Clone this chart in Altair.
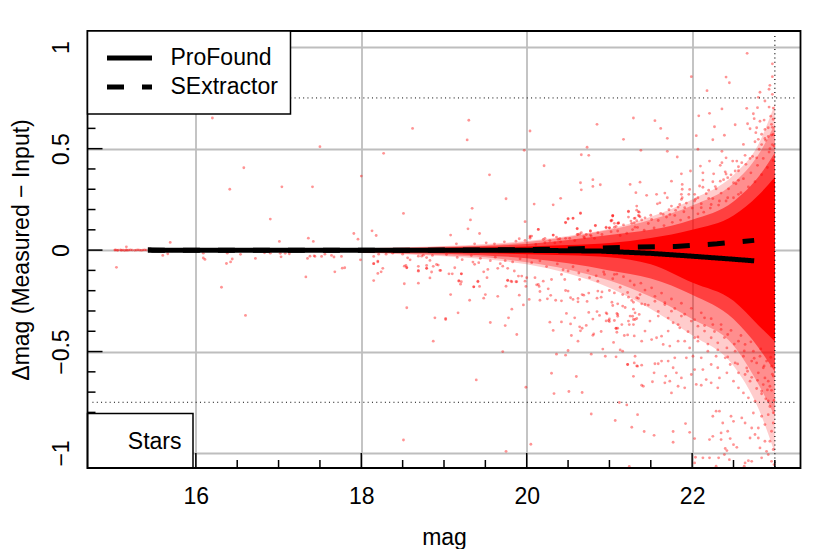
import altair as alt
import pandas as pd

FONT = "Liberation Sans"
X_DOMAIN = [14.69, 23.31]
Y_DOMAIN = [-1.074, 1.08]
W, H = 713, 437

X_MAJOR = [16, 18, 20, 22]
X_MINOR = [15, 15.5, 16.5, 17, 17.5, 18.5, 19, 19.5, 20.5, 21, 21.5, 22.5, 23]
Y_MAJOR = [-1, -0.5, 0, 0.5, 1]
Y_MINOR = [-0.9, -0.8, -0.7, -0.6, -0.4, -0.3, -0.2, -0.1, 0.1, 0.2, 0.3, 0.4, 0.6, 0.7, 0.8, 0.9]

BAND_MAG = [18.0, 18.5, 19.0, 19.5, 20.0, 20.5, 21.0, 21.5, 22.0, 22.5, 22.8, 23.0]
FAINT_HI = [0.008, 0.014, 0.02, 0.03, 0.045, 0.07, 0.105, 0.165, 0.25, 0.37, 0.52, 0.72]
FAINT_LO = [-0.014, -0.02, -0.03, -0.045, -0.07, -0.115, -0.185, -0.29, -0.42, -0.57, -0.78, -1.0]
OUTER_HI = [0.008, 0.012, 0.018, 0.024, 0.04, 0.065, 0.1, 0.15, 0.22, 0.33, 0.47, 0.62]
OUTER_LO = [-0.012, -0.018, -0.025, -0.035, -0.06, -0.095, -0.15, -0.23, -0.34, -0.47, -0.66, -0.82]
MID_HI = [0.007, 0.01, 0.014, 0.02, 0.03, 0.05, 0.075, 0.1, 0.15, 0.24, 0.36, 0.48]
MID_LO = [-0.01, -0.014, -0.018, -0.026, -0.04, -0.065, -0.1, -0.14, -0.22, -0.34, -0.48, -0.6]
CORE_HI = [0.005, 0.007, 0.01, 0.013, 0.018, 0.025, 0.035, 0.06, 0.1, 0.17, 0.27, 0.36]
CORE_LO = [-0.006, -0.009, -0.012, -0.016, -0.02, -0.025, -0.035, -0.07, -0.16, -0.25, -0.37, -0.45]

LINE_PF_MAG = [15.42, 16, 17, 18, 19, 20, 20.5, 20.9, 21.5, 22, 22.5, 22.75]
LINE_PF_VAL = [0, -0.001, -0.001, -0.001, -0.001, -0.001, -0.003, -0.005, -0.016, -0.03, -0.045, -0.053]
LINE_SX_MAG = [15.42, 16, 17, 18, 19, 20, 20.5, 20.9, 21.35, 21.8, 22.3, 22.75]
LINE_SX_VAL = [0, -0.001, -0.001, -0.001, 0, 0.002, 0.005, 0.01, 0.015, 0.018, 0.031, 0.048]

POINTS = [
(15.02,0.0),(15.03,0.001),(15.05,-0.001),(15.06,0.0),(15.09,0.001),(15.1,-0.001),(15.12,0.0),(15.14,-0.002),(15.16,0.001),(15.17,-0.001),
(15.19,0.0),(15.21,0.001),(15.23,0.0),(15.26,-0.001),(15.28,0.0),(15.3,0.001),(15.32,0.0),(15.34,-0.001),(15.36,0.0),(15.38,0.001),(15.4,0.0),
(16.2,0.651),(18.62,0.6),(17.5,0.51),(18.27,0.477),(16.58,0.406),(18.0,0.365),(16.41,0.3),(17.04,0.312),(17.41,0.312),(18.51,0.181),
(16.9,0.153),(17.91,0.082),(18.13,0.095),(18.18,0.072),(17.36,0.059),(17.42,0.043),(17.01,0.043),(17.96,0.054),(15.69,0.038),(15.16,0.016),
(15.04,-0.085),(15.6,-0.026),(15.66,-0.018),(16.09,-0.015),(16.09,-0.039),(16.11,-0.046),(16.37,-0.066),(16.44,-0.044),(16.42,-0.058),(16.54,-0.021),
(16.38,-0.015),(16.72,-0.041),(16.31,-0.183),(16.83,-0.013),(16.9,-0.015),(17.03,-0.033),(17.02,-0.016),(17.08,-0.016),(17.13,-0.018),(17.33,-0.132),
(17.68,-0.107),(17.77,-0.089),(17.8,-0.087),(17.35,-0.041),(17.38,-0.03),(17.43,-0.028),(16.6,-0.322),(17.44,-0.031),(17.52,-0.031),(17.56,-0.02),
(17.67,-0.034),(17.76,-0.031),(17.64,-0.026),(17.99,-0.048),(18.15,-0.15),(18.2,-0.115),(18.24,-0.107),(18.26,-0.09),(18.15,-0.067),(18.2,-0.058),
(18.15,-0.031),(18.52,-0.166),(18.55,-0.284),(18.89,-0.334),(18.87,-0.449),(18.51,-0.936),(18.69,-0.163),(18.83,-0.137),(18.69,-0.104),(18.69,-0.08),
(18.54,-0.076),(18.55,-0.086),(18.79,-0.09),(18.79,-0.076),(18.85,-0.108),(18.87,-0.08),(18.91,-0.071),(18.93,-0.074),(18.95,-0.1),(18.59,-0.048),
(18.56,-0.038),(18.83,-0.051),(18.5,-0.02),(18.79,-0.037),(18.69,-0.03),(18.73,-0.03),(18.75,-0.025),(18.21,-0.02),(18.3,-0.02),(18.38,-0.015),
(19.3,0.64),(20.04,0.587),(19.28,0.543),(19.97,0.492),(20.85,0.62),(21.29,0.651),(21.17,0.546),(20.73,0.507),(20.66,0.47),(20.75,0.467),
(21.38,0.492),(20.21,0.416),(19.55,0.371),(20.65,0.332),(20.8,0.347),(20.8,0.314),(20.89,0.322),(20.66,0.297),(21.25,0.324),(21.37,0.335),
(21.32,0.283),(19.75,0.253),(20.41,0.255),(20.09,0.227),(20.32,0.223),(19.34,0.206),(19.32,0.149),(20.65,0.183),(20.56,0.158),(20.5,0.153),
(20.47,0.137),(19.98,0.14),(19.29,0.105),(19.43,0.082),(19.08,0.074),(20.14,0.102),(20.04,0.069),(20.04,0.064),(19.91,0.056),(20.22,0.058),
(20.32,0.074),(20.36,0.064),(20.4,0.056),(20.47,0.058),(20.61,0.105),(20.83,0.12),(21.03,0.147),(21.04,0.169),(21.06,0.132),(21.11,0.133),
(21.23,0.192),(21.23,0.163),(21.31,0.158),(21.33,0.145),(21.33,0.217),(21.33,0.197),(21.36,0.187),(21.35,0.171),(21.37,0.164),(21.27,0.132),
(21.31,0.113),(20.64,0.08),(20.61,0.077),(20.72,0.077),(20.77,0.094),(20.77,0.074),(20.96,0.113),(21.0,0.11),(21.06,0.113),
(19.02,-0.342),(19.02,-0.337),(19.17,-0.309),(19.39,-0.64),(19.56,-0.357),(19.74,-0.372),(19.78,-0.334),(19.88,-0.416),(19.82,-0.291),(19.96,-0.27),
(19.71,-0.5),(19.99,-0.676),(19.75,-0.992),(20.05,-0.957),(20.3,-0.607),(20.36,-0.513),(20.47,-0.518),(20.5,-0.495),(20.6,-0.623),(20.33,-0.707),
(20.51,-0.697),(20.67,-0.702),(20.78,-0.808),(21.07,-0.84),(21.27,-0.873),(21.12,-0.751),(21.21,-0.763),(21.34,-0.811),(20.78,-0.513),(20.95,-0.523),
(20.92,-0.488),(21.08,-0.526),(21.13,-0.492),(21.16,-0.498),(21.22,-0.564),(21.3,-0.556),(21.33,-0.571),(21.29,-0.622),(21.39,-0.666),(21.05,-0.455),
(20.62,-0.449),(20.28,-0.355),(20.32,-0.396),(20.42,-0.354),(20.53,-0.364),(20.58,-0.334),(20.48,-0.312),(20.54,-0.421),(20.64,-0.378),(20.67,-0.385),
(20.65,-0.398),(20.72,-0.371),(20.8,-0.34),(20.75,-0.307),(20.85,-0.303),(20.81,-0.413),(20.8,-0.42),(20.9,-0.401),(20.88,-0.322),(20.97,-0.314),
(20.96,-0.349),(21.0,-0.339),(21.0,-0.352),(21.06,-0.347),(21.15,-0.367),(21.09,-0.312),(21.1,-0.326),(21.08,-0.385),(21.1,-0.385),(21.09,-0.405),
(21.18,-0.421),(21.22,-0.418),(21.3,-0.423),(21.23,-0.35),(21.29,-0.342),(21.33,-0.337),(21.36,-0.317),(21.24,-0.367),(21.29,-0.367),
(19.08,-0.219),(19.31,-0.247),(19.48,-0.237),(19.5,-0.219),(19.65,-0.228),(19.91,-0.222),(20.03,-0.243),(19.21,-0.117),(19.18,-0.153),(19.21,-0.156),
(19.2,-0.168),(19.36,-0.181),(19.43,-0.179),(19.41,-0.156),(19.75,-0.178),(19.77,-0.148),(19.82,-0.156),(19.88,-0.156),(19.98,-0.153),(19.99,-0.179),
(20.12,-0.171),(20.15,-0.179),(20.16,-0.204),(20.16,-0.247),(20.26,-0.191),(20.25,-0.24),(20.35,-0.247),(20.42,-0.25),(20.29,-0.223),(20.47,-0.199),
(20.5,-0.202),(20.53,-0.235),(20.56,-0.243),(20.62,-0.255),(20.62,-0.238),(20.73,-0.253),(20.75,-0.212),(20.67,-0.219),(20.69,-0.222),(20.85,-0.237),
(20.9,-0.232),(20.86,-0.202),(20.91,-0.206),(21.0,-0.199),(21.06,-0.211),(21.16,-0.219),(21.03,-0.257),(21.04,-0.273),(21.1,-0.265),(21.16,-0.276),
(21.19,-0.283),(21.23,-0.232),(21.27,-0.248),(21.29,-0.257),(21.33,-0.235),(21.29,-0.291),(21.28,-0.326),(21.37,-0.219),(21.39,-0.265),
(22.665,0.97),(22.97,0.918),(21.99,0.855),(22.41,0.853),(22.45,0.825),(22.97,0.855),(22.94,0.812),(22.18,0.786),(22.82,0.778),(22.93,0.793),
(22.88,0.735),(22.8,0.753),(22.97,0.768),(22.36,0.696),(22.66,0.699),(22.21,0.674),(22.08,0.662),(22.74,0.672),(22.79,0.702),(22.93,0.705),
(21.55,0.638),(21.62,0.6),(21.7,0.551),(22.05,0.564),(22.27,0.608),(22.25,0.544),(22.39,0.566),(22.52,0.618),(22.67,0.623),(22.7,0.598),
(22.75,0.648),(22.82,0.635),(22.87,0.641),(22.98,0.645),(22.95,0.66),(22.98,0.7),(22.96,0.62),(22.78,0.603),(22.77,0.579),(22.92,0.603),
(22.88,0.595),(22.84,0.571),(22.76,0.534),(22.8,0.546),(22.97,0.605),(22.98,0.57),(22.92,0.56),(22.88,0.55),(22.84,0.52),(22.97,0.52),(22.94,0.5),
(21.7,0.487),(22.07,0.497),(22.36,0.487),(22.62,0.521),(21.82,0.459),(22.41,0.455),(22.21,0.439),(22.36,0.431),(22.1,0.414),(21.98,0.39),
(21.87,0.376),(22.26,0.376),(22.13,0.381),(22.34,0.418),(22.4,0.386),(22.41,0.375),(22.49,0.439),(22.54,0.439),(22.6,0.431),(22.56,0.411),
(22.52,0.39),(22.64,0.467),(22.7,0.452),(22.78,0.455),(21.75,0.34),(22.13,0.345),(22.25,0.337),(22.34,0.34),(22.43,0.357),(22.5,0.332),(22.56,0.344),
(21.88,0.324),(21.88,0.3),(22.09,0.316),(22.13,0.31),(21.45,0.27),(21.57,0.275),(21.67,0.281),(21.7,0.258),(21.61,0.233),(21.58,0.228),
(21.87,0.275),(21.88,0.258),(21.97,0.299),(21.96,0.275),(22.03,0.275),(22.07,0.258),(22.2,0.295),(22.29,0.302),(22.2,0.255),(21.35,0.189),
(21.23,0.189),(21.36,0.168),(21.3,0.156),(21.02,0.143),(21.04,0.171),(21.11,0.135),(21.3,0.135),(21.43,0.159),(21.51,0.151),(21.65,0.176),
(21.73,0.176),(21.75,0.217),(21.85,0.225),(21.87,0.25),(21.8,0.196),(21.91,0.209),(22.11,0.209),(22.23,0.225),(22.33,0.242),(22.43,0.258),(22.56,0.275),(22.03,0.242),
(21.42,-0.894),(21.54,-0.913),(21.77,-0.894),(21.77,-0.947),(21.92,-0.855),(21.97,-0.898),(22.03,-0.929),(21.24,-1.066),(22.04,-1.021),(22.03,-1.049),
(22.13,-1.024),(22.21,-1.024),(22.21,-0.934),(22.35,-0.934),(22.46,-0.929),(22.5,-0.959),(22.54,-0.972),(22.4,-0.978),(22.42,-0.988),(22.39,-1.008),
(22.32,-1.024),(22.45,-1.033),(22.64,-1.049),(22.68,-1.038),(22.72,-1.041),(22.29,-1.065),(22.63,-1.065),(22.82,-0.975),(22.9,-0.992),(22.84,-1.024),
(22.92,-1.008),(22.98,-0.983),(22.96,-1.041),(22.99,-1.057),(22.94,-0.942),(22.88,-0.942),(22.8,-0.926),(22.64,-0.852),(22.72,-0.877),(22.76,-0.909),
(22.7,-0.926),(22.8,-0.877),(22.88,-0.86),(22.96,-0.893),(22.92,-0.811),(22.98,-0.852),(22.84,-0.819),(22.74,-0.803),(22.6,-0.827),(22.47,-0.819),
(22.37,-0.852),(22.29,-0.794),(22.25,-0.819),(22.33,-0.794),(22.43,-0.893),(22.35,-0.901),(22.25,-0.918),(22.5,-0.844),
(21.31,-0.523),(21.22,-0.564),(21.34,-0.572),(21.39,-0.567),(21.41,-0.671),(21.52,-0.649),(21.54,-0.605),(21.55,-0.56),(21.59,-0.56),(21.68,-0.621),
(21.77,-0.58),(21.73,-0.646),(21.81,-0.605),(21.87,-0.63),(21.91,-0.679),(21.75,-0.704),(21.83,-0.671),(21.71,-0.547),(21.63,-0.547),(21.79,-0.531),
(21.67,-0.654),(21.99,-0.613),(22.03,-0.589),(22.05,-0.662),(22.11,-0.666),(22.17,-0.638),(22.23,-0.654),(22.31,-0.679),(22.33,-0.63),(22.42,-0.605),
(22.5,-0.646),(22.56,-0.679),(22.62,-0.704),(22.68,-0.728),(22.76,-0.745),(22.84,-0.695),(22.92,-0.646),(22.98,-0.621),(22.94,-0.671),(22.88,-0.63),
(22.8,-0.605),(22.7,-0.646),(22.64,-0.613),(22.56,-0.605),(22.46,-0.564),(22.31,-0.58),(22.23,-0.564),(22.13,-0.589),
(20.96,-0.309),(21.1,-0.317),(21.08,-0.386),(20.99,-0.347),(21.31,-0.342),(21.25,-0.325),(21.39,-0.449),(21.51,-0.441),(21.57,-0.432),(21.63,-0.424),
(21.43,-0.399),(21.49,-0.35),(21.59,-0.325),(21.71,-0.399),(21.77,-0.358),(21.85,-0.383),(21.91,-0.449),(21.97,-0.482),(21.83,-0.449),(21.73,-0.473),
(21.65,-0.465),(21.31,-0.309),(21.43,-0.268),(21.55,-0.252),(21.67,-0.268),(21.75,-0.301),(21.87,-0.325),(21.99,-0.35),(22.07,-0.375),(22.15,-0.399),
(22.23,-0.432),(22.31,-0.457),(22.42,-0.482),(22.52,-0.498),(22.62,-0.523),(22.72,-0.547),(22.07,-0.449),(22.19,-0.498),(22.29,-0.523),(22.4,-0.531),
(22.52,-0.556),(22.11,-0.531),(22.01,-0.523),(21.93,-0.531),(22.03,-0.432),(22.15,-0.334),(22.25,-0.367),(22.35,-0.391),(22.43,-0.416),(22.56,-0.449),
(22.64,-0.465),(22.74,-0.498),(22.82,-0.523),(22.9,-0.547),(22.96,-0.572),(22.86,-0.58),(22.78,-0.556),
(18.15,-0.067),(18.2,-0.054),(18.52,-0.079),(18.55,-0.087),(18.69,-0.1),(18.79,-0.09),(18.96,-0.1),(19.06,-0.117),(19.1,-0.117),(19.13,-0.087),
(19.21,-0.117),(19.18,-0.15),(19.36,-0.181),(19.41,-0.153),(19.52,-0.136),(19.48,-0.107),(19.37,-0.07),(19.35,-0.059),(19.53,-0.095),(19.65,-0.09),
(19.71,-0.079),(19.77,-0.09),(19.85,-0.103),(19.9,-0.128),(19.77,-0.15),(19.81,-0.153),(19.87,-0.156),(19.94,-0.128),(20.0,-0.136),(20.1,-0.136),
(20.14,-0.169),(20.2,-0.153),(20.3,-0.145),(20.42,-0.12),(20.46,-0.145),(20.5,-0.103),(20.64,-0.145),(20.76,-0.136),(20.86,-0.153),(20.94,-0.12),(21.06,-0.12),
(19.73,0.041),(19.87,0.044),(19.98,0.048),(20.06,0.069),(20.14,0.102),(20.04,0.058),(20.2,0.053),(20.32,0.074),(20.38,0.053),(20.47,0.135),
(20.5,0.156),(20.56,0.156),(20.65,0.181),(20.61,0.107),(20.62,0.077),(20.66,0.086),(20.7,0.061),(20.77,0.094),(20.78,0.069),(20.83,0.122),
(20.86,0.086),(20.96,0.11),(21.0,0.11),(21.02,0.146),(21.04,0.168),(21.1,0.132),(21.1,0.094),(20.34,0.036),(19.61,0.031),(19.51,0.036),(19.37,0.031),(19.15,0.031),
(21.02,0.091),(21.08,0.117),(21.13,0.072),(21.17,0.124),(21.21,0.083),(21.26,0.143),(21.28,0.101),(21.34,0.112),(21.39,0.149),(21.42,0.098),
(21.47,0.131),(21.5,0.172),(21.54,0.109),(21.59,0.146),(21.62,0.181),(21.66,0.121),(21.69,0.163),(21.72,0.199),(21.76,0.137),(21.79,0.171),
(21.83,0.212),(21.86,0.148),(21.9,0.189),(21.93,0.232),(21.96,0.161),(22.0,0.207),(22.04,0.251),(22.07,0.179),(22.11,0.229),(22.14,0.187),
(22.17,0.278),(22.22,0.207),(22.25,0.254),(22.28,0.313),(22.32,0.222),(22.35,0.281),(22.38,0.347),(22.41,0.242),(22.44,0.302),(22.47,0.371),
(22.5,0.258),(22.53,0.327),(22.56,0.391),(22.59,0.283),(22.62,0.352),(22.65,0.423),(22.68,0.311),(22.71,0.381),(22.73,0.462),(22.76,0.337),
(22.79,0.418),(22.81,0.497),(22.84,0.372),(22.86,0.452),(22.89,0.541),(22.91,0.407),(22.93,0.483),(22.96,0.567),(22.98,0.442),(22.99,0.513),
(21.04,-0.141),(21.09,-0.118),(21.13,-0.183),(21.17,-0.131),(21.22,-0.209),(21.25,-0.152),(21.3,-0.172),(21.35,-0.238),(21.38,-0.163),(21.43,-0.197),
(21.47,-0.271),(21.51,-0.186),(21.55,-0.228),(21.59,-0.302),(21.63,-0.212),(21.67,-0.259),(21.71,-0.335),(21.75,-0.241),(21.79,-0.288),(21.83,-0.367),
(21.87,-0.262),(21.91,-0.316),(21.95,-0.402),(21.99,-0.287),(22.03,-0.343),(22.07,-0.428),(22.11,-0.309),(22.15,-0.372),(22.19,-0.463),(22.23,-0.338),
(22.27,-0.401),(22.31,-0.492),(22.35,-0.367),(22.39,-0.431),(22.43,-0.527),(22.47,-0.396),(22.51,-0.463),(22.55,-0.561),(22.59,-0.421),(22.63,-0.497),
(22.67,-0.597),(22.71,-0.452),(22.75,-0.533),(22.79,-0.642),(22.83,-0.487),(22.87,-0.571),(22.91,-0.689),(22.95,-0.528),(22.97,-0.612),(22.99,-0.741),
(22.94,-0.771),(22.89,-0.733),(22.84,-0.708),(22.78,-0.682),(22.72,-0.627),(22.66,-0.581),(22.98,-0.802),(22.92,-0.743),(22.86,-0.663),(22.96,-0.691),
(20.11,0.028),(20.22,0.037),(20.28,0.047),(20.41,0.041),(20.52,0.058),(20.58,0.047),(20.69,0.066),(20.82,0.058),(20.91,0.077),(20.16,-0.053),
(20.24,-0.081),(20.37,-0.068),(20.44,-0.097),(20.56,-0.082),(20.63,-0.113),(20.74,-0.101),(20.84,-0.127),(20.93,-0.108),(20.06,-0.062),(19.92,-0.043),
(19.74,-0.052),(19.62,-0.035),(19.44,-0.041),(19.33,-0.027),(19.16,-0.036),(19.03,-0.022),(18.86,-0.026),(19.22,-0.047),(19.42,-0.062),(19.56,-0.052),(19.68,-0.067),(19.83,-0.058),
]

xs = alt.Scale(domain=X_DOMAIN, nice=False, zero=False)
ys = alt.Scale(domain=Y_DOMAIN, nice=False, zero=False)

X_AXIS = alt.Axis(
    values=X_MAJOR, grid=True, gridColor="#bebebe", gridWidth=1.8, ticks=False, domain=False,
    labelFontSize=23, labelPadding=17, labelFlush=False, labelOverlap=False, labelColor="black",
    title="mag", titleFontSize=23, titleFontWeight="normal", titleColor="black", titlePadding=18)
Y_AXIS = alt.Axis(
    values=Y_MAJOR, grid=True, gridColor="#bebebe", gridWidth=1.8, ticks=False, domain=False,
    labelFontSize=23, labelPadding=14.5, labelAngle=270, labelAlign="center", labelBaseline="bottom",
    labelFlush=False, labelOverlap=False, labelColor="black",
    labelExpr="replace(datum.label, '-', '−')", format="~g",
    title="Δmag (Measured − Input)", titleFontSize=23, titleFontWeight="normal", titleColor="black", titlePadding=16.5)

def X(f="x"):
    return alt.X(f"{f}:Q", scale=xs, axis=X_AXIS)

def Y(f="y"):
    return alt.Y(f"{f}:Q", scale=ys, axis=Y_AXIS)

one = pd.DataFrame({"a": [0]})

def band(hi, lo, op):
    d = pd.DataFrame({"x": BAND_MAG, "y": lo, "y2": hi})
    return alt.Chart(d).mark_area(color="#ff0000", opacity=op, interpolate="monotone", clip=True).encode(
        x=X(), y=Y(), y2="y2:Q")

pts = alt.Chart(pd.DataFrame(POINTS, columns=["x", "y"])).mark_circle(
    color="#ff0000", size=8, opacity=0.42, clip=True).encode(x=X(), y=Y())

dot = [1, 3.3]
hdot = alt.Chart(pd.DataFrame({"y": [0.75, -0.75], "x": [14.75] * 2, "x2": [23.27] * 2})).mark_rule(
    color="black", strokeDash=dot, strokeWidth=1).encode(x=X(), x2="x2:Q", y=Y())
vdot = alt.Chart(pd.DataFrame({"x": [23], "y": [1.055], "y2": [-1.07]})).mark_rule(
    color="black", strokeDash=dot, strokeWidth=1.2).encode(x=X(), y=Y(), y2="y2:Q")

lines_df = pd.concat([
    pd.DataFrame({"x": LINE_PF_MAG, "y": LINE_PF_VAL, "method": "ProFound"}),
    pd.DataFrame({"x": LINE_SX_MAG, "y": LINE_SX_VAL, "method": "SExtractor"}),
])
lines = alt.Chart(lines_df).mark_line(color="black", strokeWidth=5, clip=True).encode(
    x=X(), y=Y(), order=alt.Order("x:Q"),
    strokeDash=alt.StrokeDash("method:N", scale=alt.Scale(
        domain=["ProFound", "SExtractor"], range=[[1, 0], [17, 18]]),
        legend=alt.Legend(
            title=None, orient="top-left", offset=0, padding=12.5, strokeColor="black", fillColor="white",
            symbolType="stroke", symbolSize=2025, symbolStrokeWidth=5, symbolStrokeColor="black",
            symbolOffset=4.5, labelOffset=16, labelFontSize=23, labelColor="black", clipHeight=29, rowPadding=0,
            labelFont=FONT, zindex=1, symbolOpacity=1)),
)

xmaj = alt.Chart(pd.DataFrame({"x": X_MAJOR})).mark_rule(color="black", strokeWidth=1.5).encode(
    x=X(), y=alt.value(H), y2=alt.value(H - 15))
xmin = alt.Chart(pd.DataFrame({"x": X_MINOR})).mark_rule(color="black", strokeWidth=1.5).encode(
    x=X(), y=alt.value(H), y2=alt.value(H - 8))
ymaj = alt.Chart(pd.DataFrame({"y": Y_MAJOR})).mark_rule(color="black", strokeWidth=1.5).encode(
    y=Y(), x=alt.value(0), x2=alt.value(15))
ymin = alt.Chart(pd.DataFrame({"y": Y_MINOR})).mark_rule(color="black", strokeWidth=1.5).encode(
    y=Y(), x=alt.value(0), x2=alt.value(8))

stars_box = alt.Chart(one).mark_rect(fill="white", stroke="black", strokeWidth=1.5).encode(
    x=alt.value(0), x2=alt.value(105.5), y=alt.value(382.5), y2=alt.value(H))
stars_txt = alt.Chart(pd.DataFrame({"t": ["Stars"]})).mark_text(
    font=FONT, fontSize=23, align="right", baseline="middle", color="black").encode(
    text="t:N", x=alt.value(94), y=alt.value(411))
frame = alt.Chart(one).mark_rect(fillOpacity=0, stroke="black", strokeWidth=1.8).encode(
    x=alt.value(0), x2=alt.value(W), y=alt.value(0), y2=alt.value(H))

chart = alt.layer(
    band(FAINT_HI, FAINT_LO, 0.2), band(OUTER_HI, OUTER_LO, 0.3), band(MID_HI, MID_LO, 0.55), band(CORE_HI, CORE_LO, 1.0),
    pts, hdot, vdot, lines, xmin, xmaj, ymin, ymaj, stars_box, stars_txt, frame,
).properties(
    width=W, height=H, padding={"left": 1.5, "top": 22, "right": 0, "bottom": 0},
    background="white",
).configure(font=FONT).configure_view(stroke=None).configure_legend(strokeWidth=1.5)

chart.save("out.html", embed_options={"renderer": "svg", "actions": False})
